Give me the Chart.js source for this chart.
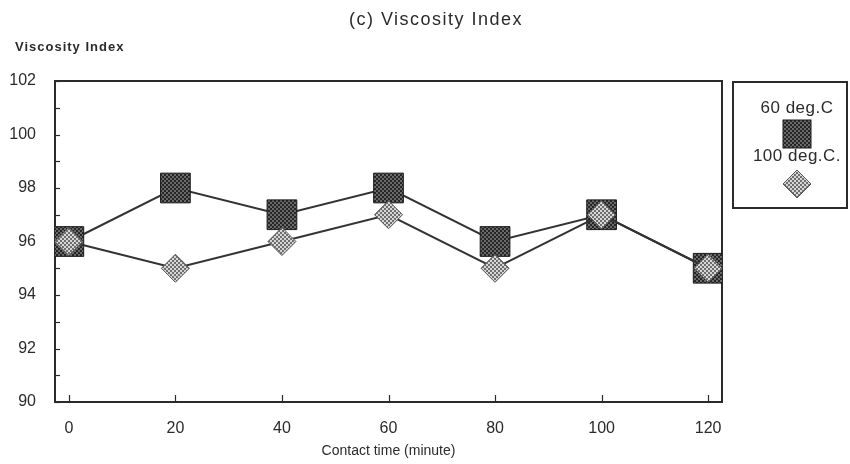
<!DOCTYPE html>
<html><head><meta charset="utf-8">
<script src="https://cdn.jsdelivr.net/npm/chart.js@4"></script>
<style>html,body{margin:0;padding:0;background:#fff}</style>
</head><body>
<canvas id="c" width="850" height="464"></canvas>
<script>
// Contact time (minute) and viscosity index for both temperatures
const contactTimes = [0, 20, 40, 60, 80, 100, 120];
const vi60 = [96, 98, 97, 98, 96, 97, 95];
const vi100 = [96, 95, 96, 97, 95, 97, 95];
const xTickValues = [0, 20, 40, 60, 80, 100, 120];
const yTickValues = [90, 92, 94, 96, 98, 100, 102];
const seriesNames = ['60 deg.C', '100 deg.C.'];
const chartTitle = '(c) Viscosity Index';
const yTitle = 'Viscosity Index';
const xTitle = 'Contact time (minute)';

const FONT = '"Liberation Sans", Arial, sans-serif';
const INK = '#2b2b2b';

// Checkered fills for the markers
function checker(a, b, cell) {
  const c = document.createElement('canvas');
  c.width = c.height = cell * 2;
  const g = c.getContext('2d');
  g.fillStyle = a; g.fillRect(0, 0, cell * 2, cell * 2);
  g.fillStyle = b; g.fillRect(0, 0, cell, cell); g.fillRect(cell, cell, cell, cell);
  return g.createPattern(c, 'repeat');
}
const ctx = document.getElementById('c').getContext('2d');
const squareFill = checker('#262626', '#6a6a6a', 2);
const diamondFill = checker('#d6d6d6', '#6e6e6e', 2);

function drawSquare(g, x, y, half) {
  g.save();
  g.fillStyle = squareFill; g.strokeStyle = '#1a1a1a'; g.lineWidth = 1;
  g.fillRect(x - half, y - half, half * 2, half * 2);
  g.strokeRect(x - half, y - half, half * 2, half * 2);
  g.restore();
}
function drawDiamond(g, x, y, r) {
  g.save();
  g.fillStyle = diamondFill; g.strokeStyle = '#555'; g.lineWidth = 1;
  g.beginPath();
  g.moveTo(x, y - r); g.lineTo(x + r, y); g.lineTo(x, y + r); g.lineTo(x - r, y); g.closePath();
  g.fill(); g.stroke();
  g.restore();
}

const framePlugin = {
  id: 'frame',
  beforeDatasetsDraw(chart) {
    const { ctx: g, chartArea: a, scales } = chart;
    g.save();
    g.strokeStyle = INK; g.lineWidth = 2;
    g.strokeRect(a.left, a.top, a.right - a.left, a.bottom - a.top);
    g.lineWidth = 1.2;
    // inward ticks on the value axis, one per unit
    for (let v = scales.y.min; v <= scales.y.max; v++) {
      const y = Math.round(scales.y.getPixelForValue(v)) + 0.5;
      g.beginPath(); g.moveTo(a.left, y); g.lineTo(a.left + 5, y); g.stroke();
    }
    // inward ticks on the time axis
    xTickValues.forEach(v => {
      const x = Math.round(scales.x.getPixelForValue(v)) + 0.5;
      g.beginPath(); g.moveTo(x, a.bottom); g.lineTo(x, a.bottom - 7); g.stroke();
    });
    g.restore();
  },
  afterDraw(chart) {
    const { ctx: g, chartArea: a } = chart;
    g.save();
    g.fillStyle = INK;
    g.textAlign = 'center'; g.textBaseline = 'middle';
    g.font = '18px ' + FONT;
    g.letterSpacing = '1.5px';
    g.fillText(chartTitle, 436, 20);
    g.letterSpacing = '0px';
    g.font = '14px ' + FONT;
    g.fillText(xTitle, (a.left + a.right) / 2, 451);
    g.textAlign = 'left';
    g.font = 'bold 13px ' + FONT;
    g.letterSpacing = '1px';
    g.fillText(yTitle, 15, 47);
    // legend box
    g.strokeStyle = INK; g.lineWidth = 2;
    g.strokeRect(733, 82, 114, 126);
    g.textAlign = 'center';
    g.font = '17px ' + FONT;
    g.letterSpacing = '0.5px';
    g.fillText(seriesNames[0], 797, 108);
    drawSquare(g, 797, 134, 14);
    g.fillStyle = INK;
    g.fillText(seriesNames[1], 797, 156);
    drawDiamond(g, 797, 184, 14);
    g.restore();
  }
};

new Chart(ctx, {
  type: 'line',
  data: {
    datasets: [
      {
        label: seriesNames[1],
        data: contactTimes.map((t, i) => ({ x: t, y: vi100[i] })),
        borderColor: '#333', borderWidth: 2,
        pointStyle: 'rectRot', pointRadius: 14, pointHoverRadius: 14,
        pointBackgroundColor: diamondFill, pointBorderColor: '#555', pointBorderWidth: 1,
        tension: 0
      },
      {
        label: seriesNames[0],
        data: contactTimes.map((t, i) => ({ x: t, y: vi60[i] })),
        borderColor: '#333', borderWidth: 2,
        pointStyle: 'rect', pointRadius: 21, pointHoverRadius: 21,
        pointBackgroundColor: squareFill, pointBorderColor: '#1a1a1a', pointBorderWidth: 1,
        tension: 0
      }
    ]
  },
  options: {
    responsive: false,
    animation: false,
    devicePixelRatio: 1,
    layout: { padding: { left: 0, right: 128, top: 81, bottom: 0 } },
    plugins: { legend: { display: false }, title: { display: false }, tooltip: { enabled: false } },
    scales: {
      x: {
        type: 'linear', min: -2.6, max: 122.6,
        afterBuildTicks: s => { s.ticks = xTickValues.map(v => ({ value: v })); },
        afterFit: s => { s.height = 62; },
        grid: { display: false },
        border: { display: false },
        ticks: { font: { family: FONT, size: 16 }, color: INK, padding: 9, maxRotation: 0, autoSkip: false }
      },
      y: {
        min: 90, max: 102,
        afterBuildTicks: s => { s.ticks = yTickValues.map(v => ({ value: v })); },
        afterFit: s => { s.width = 55; },
        grid: { display: false },
        border: { display: false },
        ticks: { font: { family: FONT, size: 16 }, color: INK, padding: 11 }
      }
    }
  },
  plugins: [framePlugin]
});
</script>
</body></html>
